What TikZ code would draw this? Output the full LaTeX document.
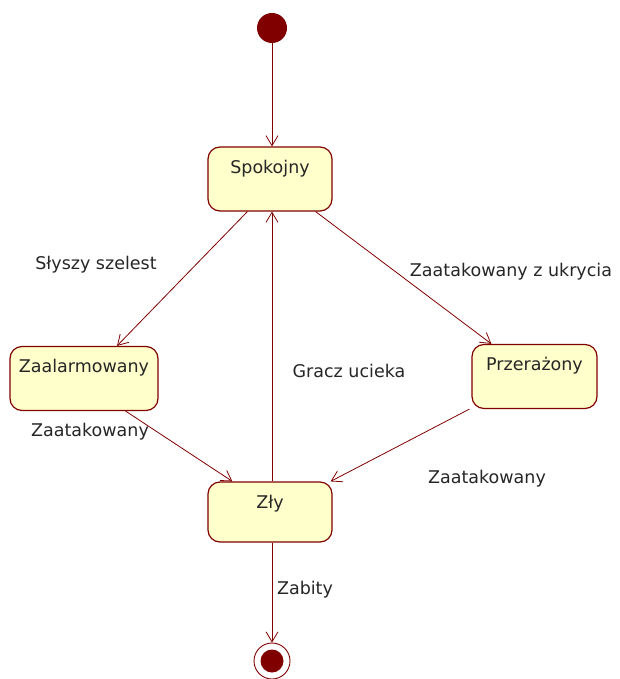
\documentclass[tikz,border=0pt]{standalone}
\usepackage{fontspec}
\setmainfont{DejaVu Sans}
\usetikzlibrary{arrows.meta}
\definecolor{umlred}{RGB}{128,0,0}
\definecolor{umlfill}{RGB}{255,255,204}
\definecolor{dotred}{RGB}{128,0,0}
\begin{document}
\begin{tikzpicture}[x=1pt,y=-1pt,
  every node/.style={font=\fontsize{17.5}{20}\selectfont, text=black!85},
  statebox/.style={draw=umlred, fill=umlfill, line width=1.2pt, rounded corners=12pt,
    minimum width=124pt, inner xsep=2pt, inner ysep=13pt,
    text height=13pt, text depth=25pt, anchor=center},
  trans/.style={draw=umlred, line width=0.8pt, -{Straight Barb[length=10pt,width=12pt,line width=0.8pt]}},
  lbl/.style={inner sep=0pt, anchor=center}
]
\useasboundingbox (0,0) rectangle (619,679);

\node[circle, fill=dotred, minimum size=30pt, inner sep=0pt] (init) at (272,28) {};

\node[statebox] (spok) at (270,179) {Spokojny};
\node[statebox, minimum width=148pt] (zaal) at (84,378.5) {Zaalarmowany};
\node[statebox, minimum width=125pt] (prz) at (534.5,376.5) {Przerażony};
\node[statebox, text depth=21pt] (zly) at (270,512) {Zły};

\node[circle, draw=umlred, line width=0.9pt, minimum size=36pt, inner sep=0pt] (final) at (272,661) {};
\node[circle, fill=dotred, minimum size=23pt, inner sep=0pt] (finaldot) at (final.center) {};

\draw[trans] (init) -- (init |- spok.north);
\draw[trans] ([xshift=40pt]spok.south west) -- ([xshift=33pt]zaal.north);
\draw[trans] ([xshift=-17pt]spok.south east) -- ([xshift=20pt]prz.north west);
\draw[trans] ([xshift=-33pt]zaal.south east) -- ([xshift=25pt]zly.north west);
\draw[trans] ([xshift=-2pt]prz.south west) -- ([xshift=-2pt]zly.north east);
\draw[trans] (zly.north -| init) -- (spok.south -| init);
\draw[trans] (zly.south -| final) -- (final);

\node[lbl] (l1) at (96,265) {Słyszy szelest};
\node[lbl] (l2) at (511,272) {Zaatakowany z ukrycia};
\node[lbl] (l3) at (349,371) {Gracz ucieka};
\node[lbl] (l4) at (90,432) {Zaatakowany};
\node[lbl] (l5) at (487,479) {Zaatakowany};
\node[lbl] (l6) at (305,590) {Zabity};
\end{tikzpicture}
\end{document}
